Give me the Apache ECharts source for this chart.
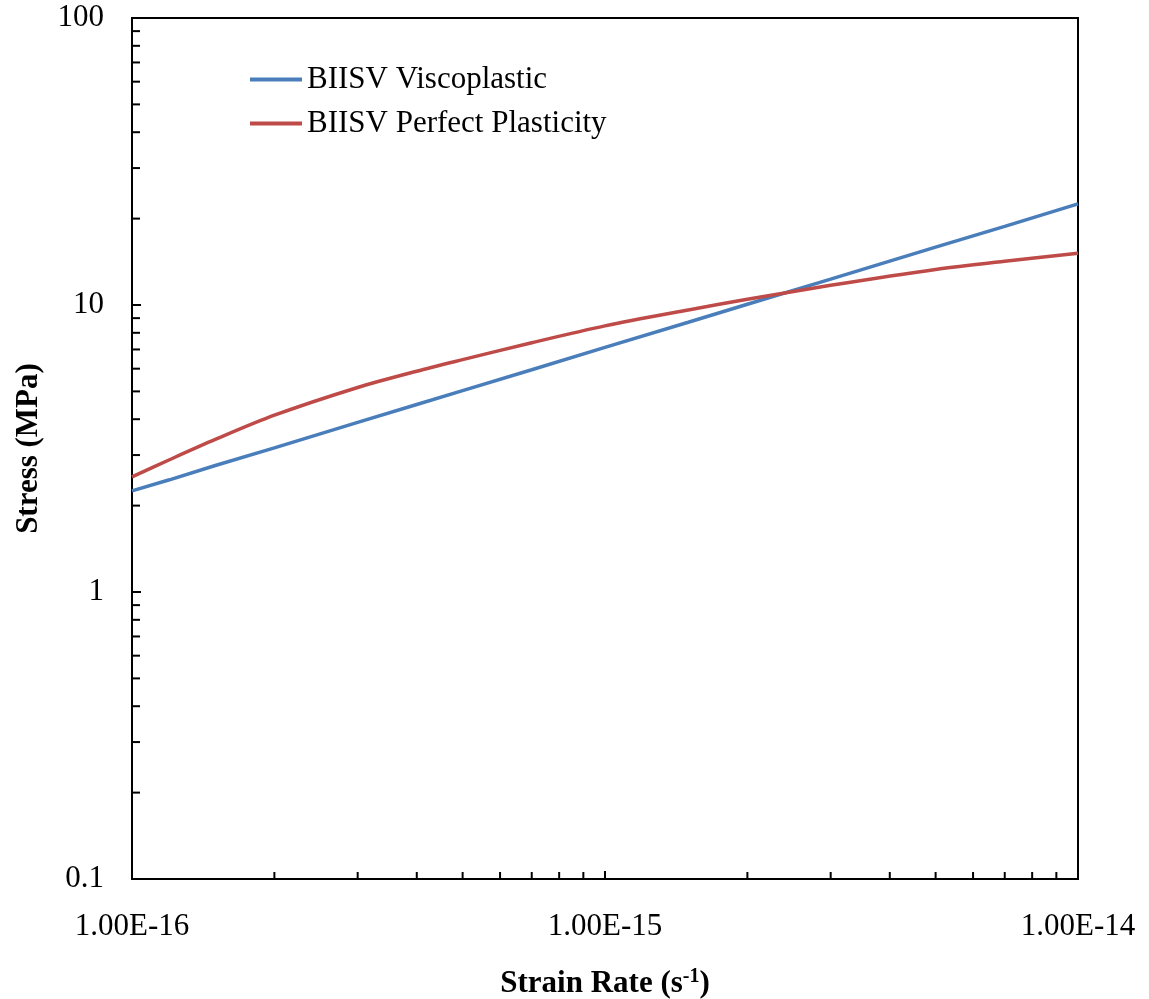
<!DOCTYPE html>
<html>
<head>
<meta charset="utf-8">
<script src="https://cdn.jsdelivr.net/npm/echarts@6/dist/echarts.min.js"></script>
<style>html,body{margin:0;padding:0;background:#fff}#c{width:1149px;height:999px}</style>
</head>
<body>
<div id="c"></div>
<script>
const strainRate = [1e-16, 1.2e-16, 1.5e-16, 2e-16, 3e-16, 4e-16, 5e-16, 7e-16, 1e-15, 1.5e-15, 2e-15, 3e-15, 5e-15, 7e-15, 1e-14];
const viscoplastic = [2.25, 2.46, 2.76, 3.18, 3.90, 4.50, 5.03, 5.95, 7.12, 8.71, 10.06, 12.3, 15.9, 18.8, 22.5];
const perfectPlasticity = [2.52, 2.89, 3.40, 4.13, 5.16, 5.88, 6.45, 7.39, 8.46, 9.61, 10.47, 11.71, 13.30, 14.21, 15.14];
const seriesNames = ['BIISV Viscoplastic', 'BIISV Perfect Plasticity'];
const xMinorTicks = [2e-16,3e-16,4e-16,5e-16,6e-16,7e-16,8e-16,9e-16,2e-15,3e-15,4e-15,5e-15,6e-15,7e-15,8e-15,9e-15];
const yMinorTicks = [0.2,0.3,0.4,0.5,0.6,0.7,0.8,0.9,2,3,4,5,6,7,8,9,20,30,40,50,60,70,80,90];

const FONT = 'Liberation Serif';
const chart = echarts.init(document.getElementById('c'));
const pair = (xs, ys) => xs.map((x, i) => [x, ys[i]]);

chart.setOption({
  animation: false,
  backgroundColor: '#fff',
  grid: { left: 132, right: 71, top: 18, bottom: 120, outerBoundsMode: 'none', containLabel: false,
    show: true, borderColor: '#000', borderWidth: 2, backgroundColor: 'transparent' },
  legend: {
    data: seriesNames,
    orient: 'vertical', left: 250, top: 64, padding: 0,
    icon: 'rect', itemWidth: 52, itemHeight: 4, itemGap: 13,
    textStyle: { fontFamily: FONT, fontSize: 31, color: '#000' }
  },
  xAxis: {
    type: 'log', logBase: 10, min: 1e-16, max: 1e-14,
    name: '{b|Strain Rate (s}{sup|-1}{b|)}',
    nameLocation: 'middle', nameGap: 88,
    nameTextStyle: { rich: {
      b: { fontFamily: FONT, fontSize: 31, fontWeight: 'bold', color: '#000' },
      sup: { fontFamily: FONT, fontSize: 20, fontWeight: 'bold', color: '#000', verticalAlign: 'top', padding: [0,0,14,0] }
    } },
    axisLine: { lineStyle: { color: '#000', width: 2 } },
    axisTick: { inside: true, length: 8, lineStyle: { color: '#000', width: 2 } },
    splitLine: { show: false },
    axisLabel: { margin: 32, fontFamily: FONT, fontSize: 31, color: '#000',
      formatter: v => v.toExponential(2).toUpperCase() }
  },
  yAxis: {
    type: 'log', logBase: 10, min: 0.1, max: 100,
    name: 'Stress (MPa)', nameLocation: 'middle', nameGap: 88,
    nameTextStyle: { fontFamily: FONT, fontSize: 31, fontWeight: 'bold', color: '#000' },
    axisLine: { lineStyle: { color: '#000', width: 2 } },
    axisTick: { inside: true, length: 9, lineStyle: { color: '#000', width: 2 } },
    splitLine: { show: false },
    axisLabel: { margin: 28, fontFamily: FONT, fontSize: 31, color: '#000',
      formatter: v => String(+v.toPrecision(3)) }
  },
  series: [
    { name: seriesNames[0], type: 'line', data: pair(strainRate, viscoplastic), smooth: false,
      symbol: 'none', lineStyle: { color: '#4A7EBB', width: 3.5 }, itemStyle: { color: '#4A7EBB' } },
    { name: seriesNames[1], type: 'line', data: pair(strainRate, perfectPlasticity), smooth: 0.3,
      symbol: 'none', lineStyle: { color: '#BE4B48', width: 3.5 }, itemStyle: { color: '#BE4B48' } },
    { type: 'custom', silent: true, clip: false, z: 5,
      data: xMinorTicks.map(v => [v, 0.1]),
      renderItem: (params, api) => {
        const p = api.coord([api.value(0), api.value(1)]);
        return { type: 'line', shape: { x1: p[0], y1: p[1], x2: p[0], y2: p[1] - 7 }, style: { stroke: '#000', lineWidth: 2 } };
      } },
    { type: 'custom', silent: true, clip: false, z: 5,
      data: yMinorTicks.map(v => [1e-16, v]),
      renderItem: (params, api) => {
        const p = api.coord([api.value(0), api.value(1)]);
        return { type: 'line', shape: { x1: p[0], y1: p[1], x2: p[0] + 8, y2: p[1] }, style: { stroke: '#000', lineWidth: 2 } };
      } }
  ]
});
</script>
</body>
</html>
